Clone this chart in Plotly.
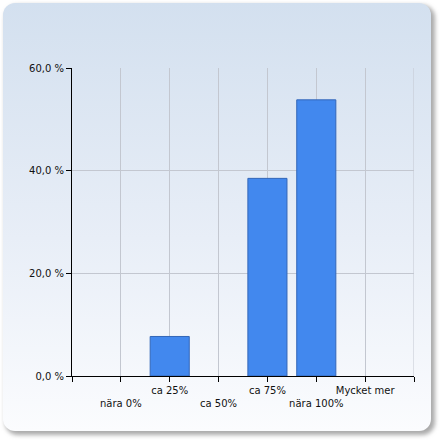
import base64
import plotly.graph_objects as go

# survey answers, share of respondents (%)
categories = ["nära 0%", "ca 25%", "ca 50%", "ca 75%", "nära 100%", "Mycket mer"]
shares = [0.0, 7.7, 0.0, 38.5, 53.8, 0.0]
positions = [1, 2, 3, 4, 5, 6]

y_ticks = [0, 20, 40, 60]
y_labels = ["0,0 %", "20,0 %", "40,0 %", "60,0 %"]

W = H = 441

# staggered labels: every other one drops to a second line
x_ticks = [0] + positions + [7]
x_labels = [""] + [("<br>" + c) if i % 2 == 0 else c for i, c in enumerate(categories)] + [""]

# rounded panel with vertical gradient and soft shadow
svg = f"""<svg xmlns='http://www.w3.org/2000/svg' width='{W}' height='{H}' viewBox='0 0 {W} {H}'>
<defs>
<linearGradient id='g' x1='0' y1='0' x2='0' y2='1'>
<stop offset='0' stop-color='#d3e0ef'/>
<stop offset='0.55' stop-color='#e8eef7'/>
<stop offset='1' stop-color='#fbfcfe'/>
</linearGradient>
<filter id='s' x='-5%' y='-5%' width='115%' height='115%'>
<feGaussianBlur stdDeviation='2.0'/>
</filter>
</defs>
<rect x='5' y='5' width='430' height='430' rx='13' fill='#aaaaaa' filter='url(#s)'/>
<rect x='3' y='3' width='428' height='428' rx='12' fill='url(#g)'/>
</svg>"""
src = "data:image/svg+xml;base64," + base64.b64encode(svg.encode()).decode()

fig = go.Figure()
fig.add_trace(go.Bar(
    x=positions, y=shares, width=0.8,
    marker=dict(color="#4288ee",
                line=dict(color="#3366b8", width=[1 if v > 0 else 0 for v in shares])),
))

font = dict(family="DejaVu Sans", size=10, color="#111111")

fig.update_layout(
    width=W, height=H, autosize=False,
    margin=dict(l=0, r=0, t=0, b=0, pad=0, autoexpand=False),
    paper_bgcolor="white",
    plot_bgcolor="rgba(0,0,0,0)",
    showlegend=False,
    font=font,
    images=[dict(source=src, xref="paper", yref="paper", x=0, y=1,
                 sizex=1, sizey=1, sizing="stretch", layer="below",
                 xanchor="left", yanchor="top")],
    xaxis=dict(
        domain=[72 / W, 414 / W], range=[0, 7],
        tickvals=x_ticks, ticktext=x_labels, tickangle=0, automargin=False,
        showgrid=True, gridcolor="#c3c7d0", gridwidth=1,
        showline=True, linecolor="black", linewidth=1,
        ticks="outside", ticklen=5, tickcolor="black",
        tickfont=font, zeroline=False, fixedrange=True,
    ),
    yaxis=dict(
        domain=[1 - 376 / H, 1 - 68 / H], range=[0, 60],
        tickvals=y_ticks, ticktext=y_labels, automargin=False,
        showgrid=True, gridcolor="#c3c7d0", gridwidth=1,
        showline=True, linecolor="black", linewidth=1,
        ticks="outside", ticklen=5, tickcolor="black",
        tickfont=font, zeroline=False, fixedrange=True,
    ),
    bargap=0.2,
)

# right frame line of the grid
fig.add_shape(type="line", xref="x", yref="y", x0=7, x1=7, y0=0, y1=60,
              line=dict(color="#c3c7d0", width=1), layer="below")

# drop the browser's default page margin so the figure sits at (0, 0)
fig.write_html("out.html", config={"displayModeBar": False},
               post_script="document.body.style.margin='0';")
